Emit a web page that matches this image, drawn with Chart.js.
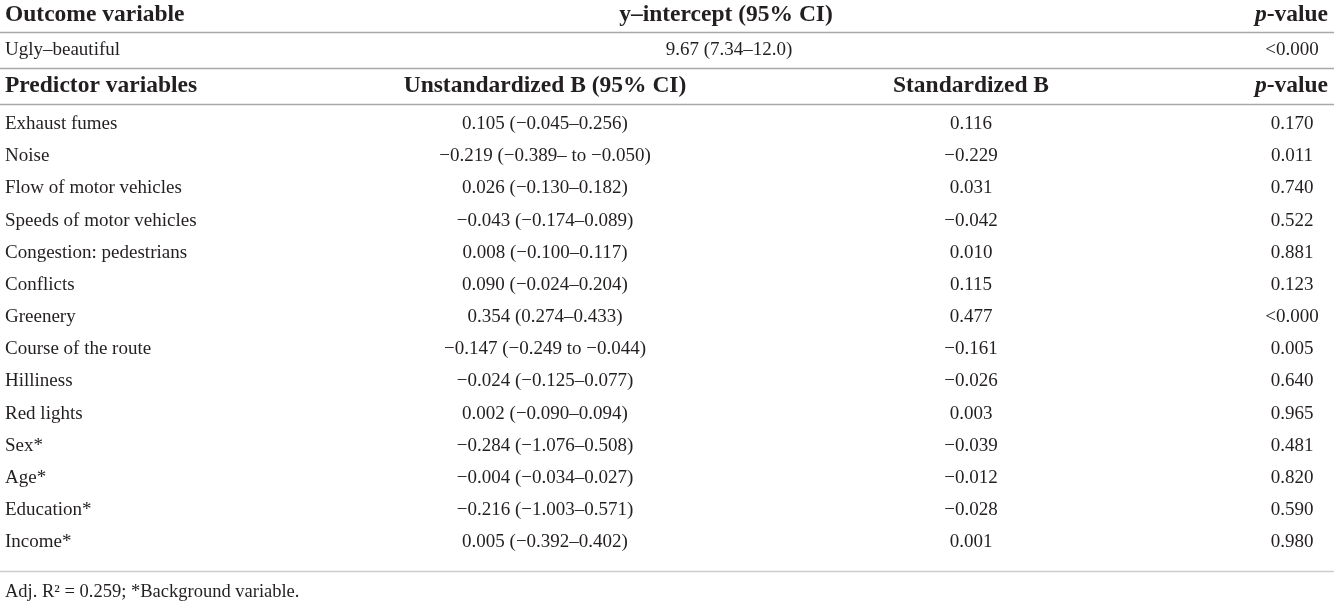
<!DOCTYPE html>
<html>
<head>
<meta charset="utf-8">
<script src="https://cdn.jsdelivr.net/npm/chart.js@4"></script>
<style>
  html, body { margin: 0; padding: 0; background: #fff; }
  #wrap { width: 1334px; height: 607px; position: relative; }
</style>
</head>
<body>
<div id="wrap"><canvas id="tableChart"></canvas></div>
<script>
// Table content
const outcomeHeader = ['Outcome variable', 'y\u2013intercept (95% CI)', 'p-value'];
const outcomeRow = ['Ugly\u2013beautiful', '9.67 (7.34\u201312.0)', '<0.000'];
const predictorHeader = ['Predictor variables', 'Unstandardized B (95% CI)', 'Standardized B', 'p-value'];

const predictors = [
    'Exhaust fumes', 'Noise', 'Flow of motor vehicles', 'Speeds of motor vehicles',
    'Congestion: pedestrians', 'Conflicts', 'Greenery', 'Course of the route',
    'Hilliness', 'Red lights', 'Sex*', 'Age*', 'Education*', 'Income*'
];
const unstandardizedB = [
    '0.105 (\u22120.045\u20130.256)', '\u22120.219 (\u22120.389\u2013 to \u22120.050)',
    '0.026 (\u22120.130\u20130.182)', '\u22120.043 (\u22120.174\u20130.089)',
    '0.008 (\u22120.100\u20130.117)', '0.090 (\u22120.024\u20130.204)',
    '0.354 (0.274\u20130.433)', '\u22120.147 (\u22120.249 to \u22120.044)',
    '\u22120.024 (\u22120.125\u20130.077)', '0.002 (\u22120.090\u20130.094)',
    '\u22120.284 (\u22121.076\u20130.508)', '\u22120.004 (\u22120.034\u20130.027)',
    '\u22120.216 (\u22121.003\u20130.571)', '0.005 (\u22120.392\u20130.402)'
];
const standardizedB = [
    '0.116', '\u22120.229', '0.031', '\u22120.042', '0.010', '0.115', '0.477',
    '\u22120.161', '\u22120.026', '0.003', '\u22120.039', '\u22120.012', '\u22120.028', '0.001'
];
const pValues = [
    '0.170', '0.011', '0.740', '0.522', '0.881', '0.123', '<0.000',
    '0.005', '0.640', '0.965', '0.481', '0.820', '0.590', '0.980'
];
const footnote = 'Adj. R\u00b2 = 0.259; *Background variable.';

// Layout (in scale units = css px of the table)
const W = 1334, H = 607;
const colLeft = 5, colUnstd = 545, colIntercept = 726, colStd = 971, colP = 1292, colRight = 1328;
const headY1 = 15, headY2 = 50, headY3 = 86;
const firstRowY = 124, rowStep = 32.18, footY = 592;
const rules = [
    { y: 32.5, color: '#a8a8a8' },
    { y: 68.5, color: '#a8a8a8' },
    { y: 104.5, color: '#a8a8a8' },
    { y: 571.5, color: '#cccccc' }
];

const FONT = "'Liberation Serif', 'Times New Roman', serif";
const TEXT = '#231f20';

const ruleSets = rules.map(r => ({
    type: 'line',
    data: [{ x: 0, y: r.y }, { x: W, y: r.y }],
    borderColor: r.color,
    borderWidth: 1.6,
    pointRadius: 0,
    fill: false
}));

function drawRich(ctx, parts, x, y, align) {
    let total = 0;
    parts.forEach(p => { ctx.font = p.font; total += ctx.measureText(p.t).width; });
    let cx = align === 'right' ? x - total : align === 'center' ? x - total / 2 : x;
    ctx.textAlign = 'left';
    parts.forEach(p => {
        ctx.font = p.font;
        ctx.fillText(p.t, cx, y);
        cx += ctx.measureText(p.t).width;
    });
}

const tablePlugin = {
    id: 'tableText',
    afterDatasetsDraw(chart) {
        const ctx = chart.ctx;
        const xs = chart.scales.x, ys = chart.scales.y;
        const px = v => xs.getPixelForValue(v);
        const py = v => ys.getPixelForValue(v);
        const bold = 'bold 23.5px ' + FONT;
        const boldIt = 'italic bold 23.5px ' + FONT;
        const body = '19px ' + FONT;
        const pHead = [{ t: 'p', font: boldIt }, { t: '-value', font: bold }];

        ctx.save();
        ctx.fillStyle = TEXT;
        ctx.textBaseline = 'middle';

        function cell(text, x, y, font, align) {
            ctx.font = font;
            ctx.textAlign = align;
            ctx.fillText(text, px(x), py(y));
        }

        // outcome block
        cell(outcomeHeader[0], colLeft, headY1, bold, 'left');
        cell(outcomeHeader[1], colIntercept, headY1, bold, 'center');
        drawRich(ctx, pHead, px(colRight), py(headY1), 'right');

        cell(outcomeRow[0], colLeft, headY2, body, 'left');
        cell(outcomeRow[1], colIntercept + 3, headY2, body, 'center');
        cell(outcomeRow[2], colP, headY2, body, 'center');

        // predictor header
        cell(predictorHeader[0], colLeft, headY3, bold, 'left');
        cell(predictorHeader[1], colUnstd, headY3, bold, 'center');
        cell(predictorHeader[2], colStd, headY3, bold, 'center');
        drawRich(ctx, pHead, px(colRight), py(headY3), 'right');

        // predictor rows
        predictors.forEach((name, i) => {
            const y = firstRowY + i * rowStep;
            cell(name, colLeft, y, body, 'left');
            cell(unstandardizedB[i], colUnstd, y, body, 'center');
            cell(standardizedB[i], colStd, y, body, 'center');
            cell(pValues[i], colP, y, body, 'center');
        });

        cell(footnote, colLeft, footY, '18.5px ' + FONT, 'left');
        ctx.restore();
    }
};

new Chart(document.getElementById('tableChart'), {
    type: 'scatter',
    data: { datasets: ruleSets },
    options: {
        responsive: true,
        maintainAspectRatio: false,
        animation: false,
        events: [],
        layout: { padding: 0 },
        plugins: { legend: { display: false }, tooltip: { enabled: false } },
        scales: {
            x: { type: 'linear', min: 0, max: W, display: false },
            y: { type: 'linear', min: 0, max: H, reverse: true, display: false }
        }
    },
    plugins: [tablePlugin]
});
</script>
</body>
</html>
